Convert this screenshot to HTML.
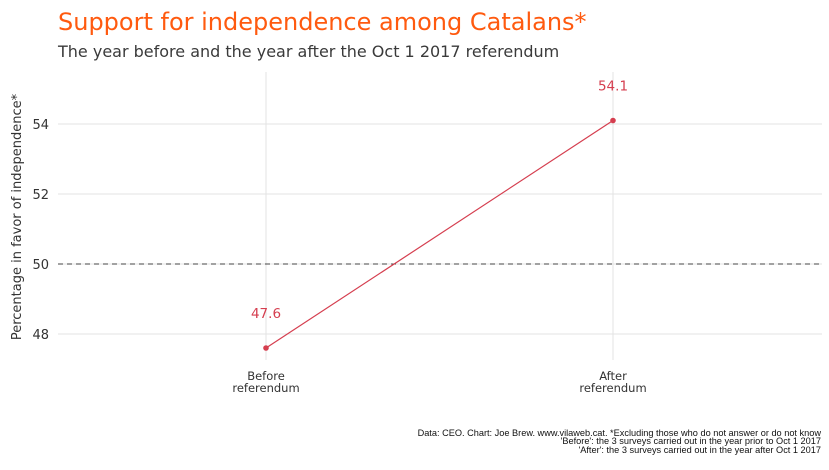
<!DOCTYPE html>
<html><head><meta charset="utf-8"><style>
body{margin:0;background:#fff;font-family:"DejaVu Sans","Liberation Sans",sans-serif}
</style></head><body>
<svg width="829" height="466" id="c">
<text x="58" y="30" font-size="24" fill="#ff5a0f">Support for independence among Catalans*</text>
<text x="58" y="57" font-size="16" fill="#3a3a3a">The year before and the year after the Oct 1 2017 referendum</text>
<text transform="translate(21,217) rotate(-90)" text-anchor="middle" font-size="13" fill="#333">Percentage in favor of independence*</text>
<g id="grid"></g><g id="marks"></g>
<g font-size="9.2" fill="#111" text-anchor="end" font-family="Liberation Sans, sans-serif">
<text x="821" y="436">Data: CEO. Chart: Joe Brew. www.vilaweb.cat. *Excluding those who do not answer or do not know</text>
<text x="821" y="444">'Before': the 3 surveys carried out in the year prior to Oct 1 2017</text>
<text x="821" y="453">'After': the 3 surveys carried out in the year after Oct 1 2017</text>
</g>
</svg>
<script>
const categories=["Before\nreferendum","After\nreferendum"];
const values=[47.6,54.1];
const yTicks=[48,50,52,54];
const refLine=50;
const ns="http://www.w3.org/2000/svg";
const y=v=>264-(v-50)*35;
const x=i=>266+i*347;
const L=58,R=822,T=72,B=360;
function mk(t,a,p){const e=document.createElementNS(ns,t);for(const k in a)e.setAttribute(k,a[k]);p.appendChild(e);return e;}
const g=document.getElementById('grid'),m=document.getElementById('marks');
yTicks.forEach(v=>{
const l=mk('line',{x1:L,x2:R,y1:y(v),y2:y(v),stroke:'#e3e3e3'},g);


const t=mk('text',{x:49,y:y(v)+5,'text-anchor':'end','font-size':13,fill:'#333'},g);t.textContent=v;


});
categories.forEach((c,i)=>{
const l=mk('line',{x1:x(i),x2:x(i),y1:T,y2:B,stroke:'#e3e3e3'},g);


const t=mk('text',{'text-anchor':'middle','font-size':11.5,fill:'#333'},g);


c.split('\n').forEach((s,j)=>{const ts=mk('tspan',{x:x(i),y:380+j*12},t);ts.textContent=s;});
});
const r=mk('line',{x1:L,x2:R,y1:y(refLine),y2:y(refLine),stroke:'#444','stroke-dasharray':'5,4'},m);


const ln=mk('polyline',{points:values.map((v,i)=>x(i)+','+y(v)).join(' '),fill:'none',stroke:'#d53e4f','stroke-width':1.2},m);


values.forEach((v,i)=>{
const p=mk('circle',{cx:x(i),cy:y(v),r:2.8,fill:'#d53e4f'},m);


const t=mk('text',{x:x(i),y:y(v)-30,'text-anchor':'middle','font-size':13.5,fill:'#d53e4f'},m);t.textContent=v.toFixed(1);


});
</script>
</body></html>
